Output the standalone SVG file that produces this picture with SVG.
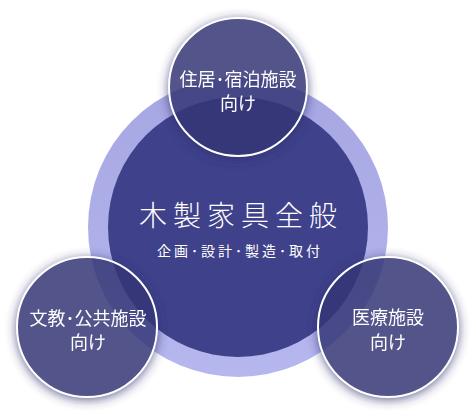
<svg xmlns="http://www.w3.org/2000/svg" width="476" height="416" viewBox="0 0 476 416">
<defs>
<style>
.t{font-family:"Noto Sans CJK JP","Noto Sans CJK SC",sans-serif;fill:#ffffff;text-anchor:middle}
.sm{font-size:18px}
.sat{fill:rgba(53,54,117,0.85);stroke:#ffffff;stroke-width:2}
.sh{fill:#2e2f6e;filter:url(#blur)}
</style>
<filter id="blur" x="-30%" y="-30%" width="160%" height="160%">
<feGaussianBlur stdDeviation="6"/>
</filter>
<mask id="outside" maskUnits="userSpaceOnUse" x="0" y="0" width="476" height="416">
<rect width="476" height="416" fill="#ffffff"/>
<circle cx="238" cy="87" r="69" fill="#000000"/>
<circle cx="87" cy="327" r="70" fill="#000000"/>
<circle cx="388" cy="327" r="70" fill="#000000"/>
</mask>
<linearGradient id="ring" x1="0" y1="0" x2="0" y2="1">
<stop offset="0" stop-color="#a6a7e2"/>
<stop offset="1" stop-color="#b6b7ef"/>
</linearGradient>
</defs>
<rect width="476" height="416" fill="#ffffff"/>
<g id="connectors"/>
<g id="center">
<circle cx="238" cy="227" r="150" fill="url(#ring)"/>
<circle cx="238" cy="227" r="130" fill="#3f418b"/>
<text class="t" x="241" y="226" font-size="28" font-weight="300" letter-spacing="6">木製家具全般</text>
<text class="t" x="240" y="256" font-size="14" letter-spacing="3">企画･設計･製造･取付</text>
</g>
<g id="shadows" mask="url(#outside)" opacity="0.85">
<circle class="sh" cx="238" cy="89" r="69"/>
<circle class="sh" cx="87" cy="329" r="70"/>
<circle class="sh" cx="388" cy="329" r="70"/>
</g>
<g id="housing">
<circle class="sat" cx="238" cy="87" r="69"/>
<text class="t sm" x="238" y="86">住居･宿泊施設</text>
<text class="t sm" x="238" y="110">向け</text>
</g>
<g id="education">
<circle class="sat" cx="87" cy="327" r="70"/>
<text class="t sm" x="88" y="325">文教･公共施設</text>
<text class="t sm" x="88" y="349">向け</text>
</g>
<g id="medical">
<circle class="sat" cx="388" cy="327" r="70"/>
<text class="t sm" x="388" y="324">医療施設</text>
<text class="t sm" x="388" y="349">向け</text>
</g>
</svg>
